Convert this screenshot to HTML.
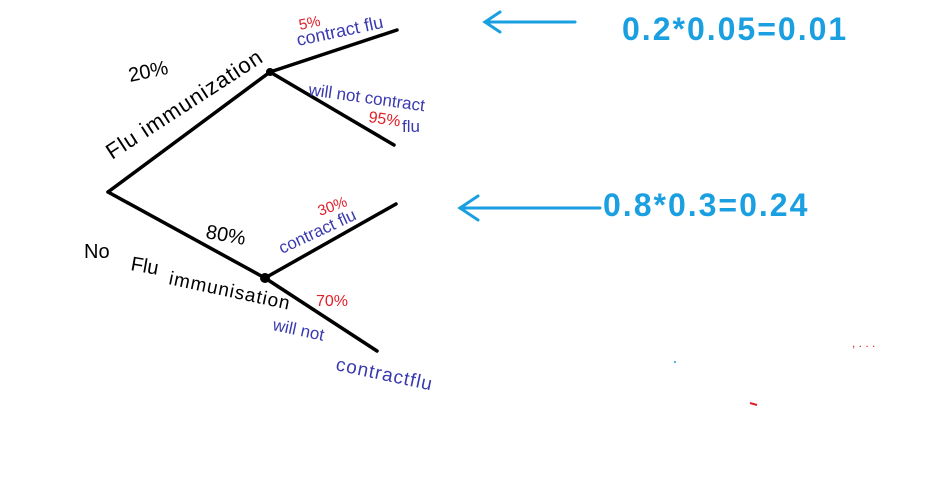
<!DOCTYPE html>
<html><head><meta charset="utf-8"><style>
html,body{margin:0;padding:0;background:#fff;}
svg{display:block;}
text{font-family:"Liberation Sans",sans-serif;}
</style></head><body>
<svg width="943" height="480" viewBox="0 0 943 480" xmlns="http://www.w3.org/2000/svg">
<g stroke="#000" stroke-width="3.5" stroke-linecap="round" fill="none">
<line x1="108" y1="192" x2="270" y2="72"/>
<line x1="270" y1="72" x2="397" y2="30"/>
<line x1="270" y1="72" x2="394" y2="145"/>
<line x1="108" y1="192" x2="265" y2="278"/>
<line x1="265" y1="278" x2="396" y2="204"/>
<line x1="265" y1="278" x2="377" y2="351"/>
</g>
<circle cx="270" cy="72" r="4" fill="#000"/>
<circle cx="265" cy="278" r="5" fill="#000"/>
<g stroke="#1a9fe0" stroke-width="3" fill="none" stroke-linecap="round">
<line x1="485" y1="22" x2="575" y2="22"/>
<polyline points="500,12 485,22 500,32"/>
<line x1="460" y1="208" x2="600" y2="208"/>
<polyline points="478,196 460,208 478,220"/>
</g>
<text x="622" y="40" font-size="32" font-weight="bold" fill="#1a9fe0" letter-spacing="2">0.2*0.05=0.01</text>
<text x="603" y="216" font-size="32" font-weight="bold" fill="#1a9fe0" letter-spacing="2">0.8*0.3=0.24</text>
<text x="130" y="82" font-size="20" fill="#000" transform="rotate(-12 130 82)">20%</text>
<text x="112" y="160" font-size="22" fill="#000" transform="rotate(-33 112 160)" letter-spacing="1">Flu immunization</text>
<text x="300" y="30" font-size="15" fill="#e0202a" transform="rotate(-12 300 30)">5%</text>
<text x="298" y="46" font-size="18" fill="#3a3ab0" transform="rotate(-12 298 46)">contract flu</text>
<text x="308" y="95" font-size="17" fill="#3a3ab0" transform="rotate(8 308 95)">will not contract</text>
<text x="368" y="122" font-size="16" fill="#e0202a" transform="rotate(8 368 122)">95%</text>
<text x="402" y="132" font-size="17" fill="#3a3ab0">flu</text>
<text x="205" y="238" font-size="20" fill="#000" transform="rotate(10 205 238)">80%</text>
<text x="84" y="258" font-size="20" fill="#000">No</text>
<text x="130" y="270" font-size="20" fill="#000" transform="rotate(10 130 270)">Flu</text>
<text x="168" y="284" font-size="19" fill="#000" transform="rotate(12 168 284)" letter-spacing="1">immunisation</text>
<text x="320" y="216" font-size="15" fill="#e0202a" transform="rotate(-20 320 216)">30%</text>
<text x="282" y="254" font-size="17" fill="#3a3ab0" transform="rotate(-25 282 254)">contract flu</text>
<text x="316" y="306" font-size="16" fill="#e0202a">70%</text>
<text x="272" y="330" font-size="17" fill="#3a3ab0" transform="rotate(12 272 330)">will not</text>
<text x="335" y="370" font-size="19" fill="#3a3ab0" transform="rotate(12 335 370)" letter-spacing="1">contractflu</text>
<text x="852" y="347" font-size="12" fill="#e0202a">, . . .</text>
<line x1="750" y1="403" x2="757" y2="405" stroke="#e0202a" stroke-width="2"/>
<circle cx="675" cy="362" r="1" fill="#1a9fe0"/>
</svg>
</body></html>
